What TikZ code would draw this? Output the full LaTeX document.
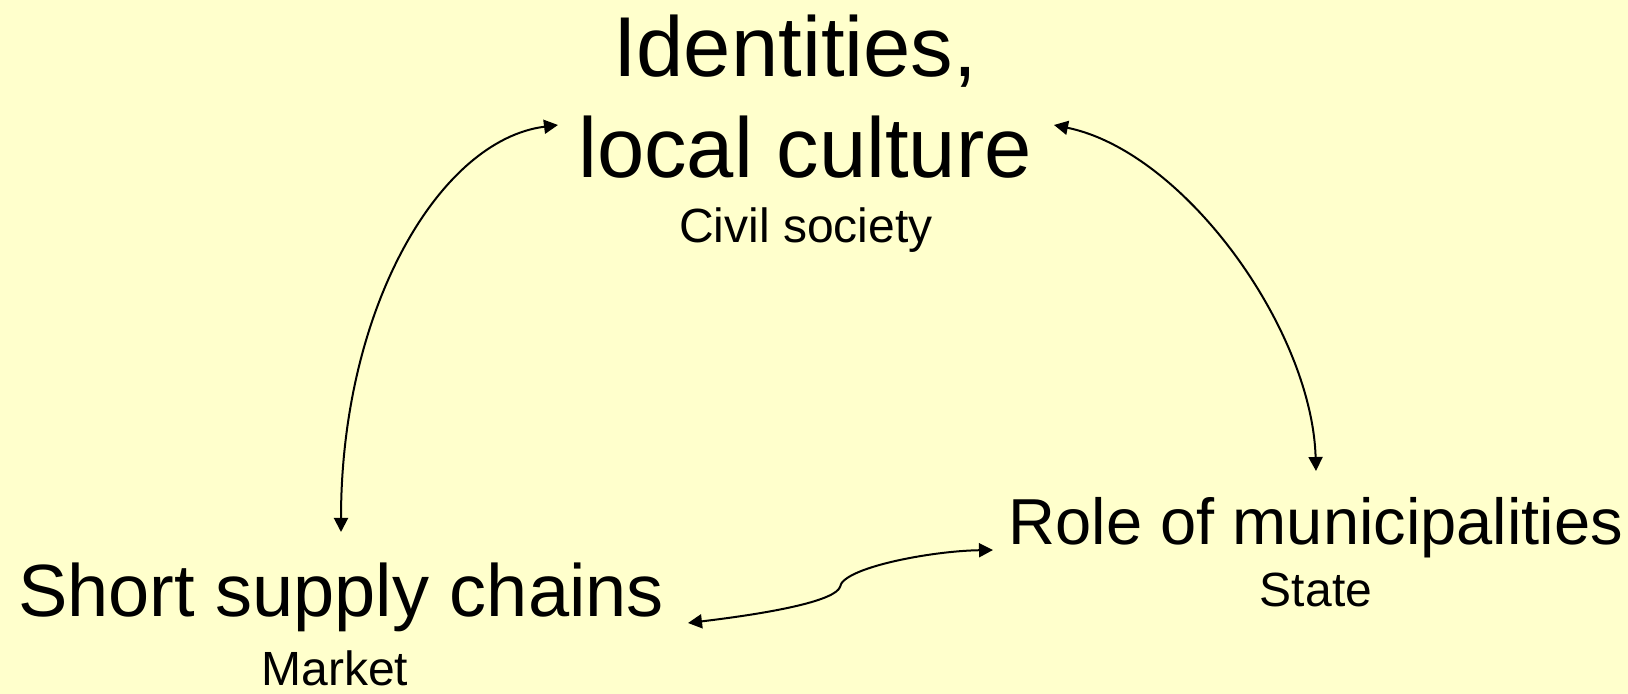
\documentclass[tikz,border=0pt]{standalone}
\usepackage{fontspec}
\setmainfont{Liberation Sans}
\usetikzlibrary{arrows.meta}
\definecolor{bgyellow}{HTML}{FFFFCC}
\begin{document}
\begin{tikzpicture}[x=0.5pt,y=-0.5pt,
  lbl/.style={inner sep=0pt, anchor=base, text=black},
  big/.style={lbl, font=\fontsize{42.5}{51}\selectfont},
  mid/.style={lbl, font=\fontsize{37}{44}\selectfont},
  midr/.style={lbl, font=\fontsize{32.5}{39}\selectfont},
  small/.style={lbl, font=\fontsize{24}{29}\selectfont},
  tip/.tip={Triangle[length=7pt,width=7pt]},
  link/.style={line width=1pt, tip-tip}]
\fill[bgyellow] (0,0) rectangle (1628,694);
\useasboundingbox (0,0) rectangle (1628,694);
% labels
\node[big] (ident) at (795,77) {Identities,};
\node[big] (culture) at (805,178) {local culture};
\node[small] (civil) at (806,243) {Civil society};
\node[mid] (short) at (341,617) {Short supply chains};
\node[small] (market) at (335,686) {Market};
\node[midr] (role) at (1316,545) {Role of municipalities};
\node[small] (state) at (1316,607) {State};
% connector ends
\coordinate (lt) at (558,125);
\coordinate (lb) at (341,532);
\coordinate (rt) at (1054,125);
\coordinate (rb) at (1316,471);
\coordinate (sl) at (688,623);
\coordinate (sm) at (840,587);
\coordinate (sr) at (993,550);
% connectors
\draw[link] (lb) .. controls (341,307) and (440,140) .. (lt);
\draw[link] (rt) .. controls (1185,152) and (1312,330) .. (rb);
\draw[link] (sl) .. controls (780,612) and (835,600) .. (sm) .. controls (842,568) and (930,551) .. (sr);
\end{tikzpicture}
\end{document}
